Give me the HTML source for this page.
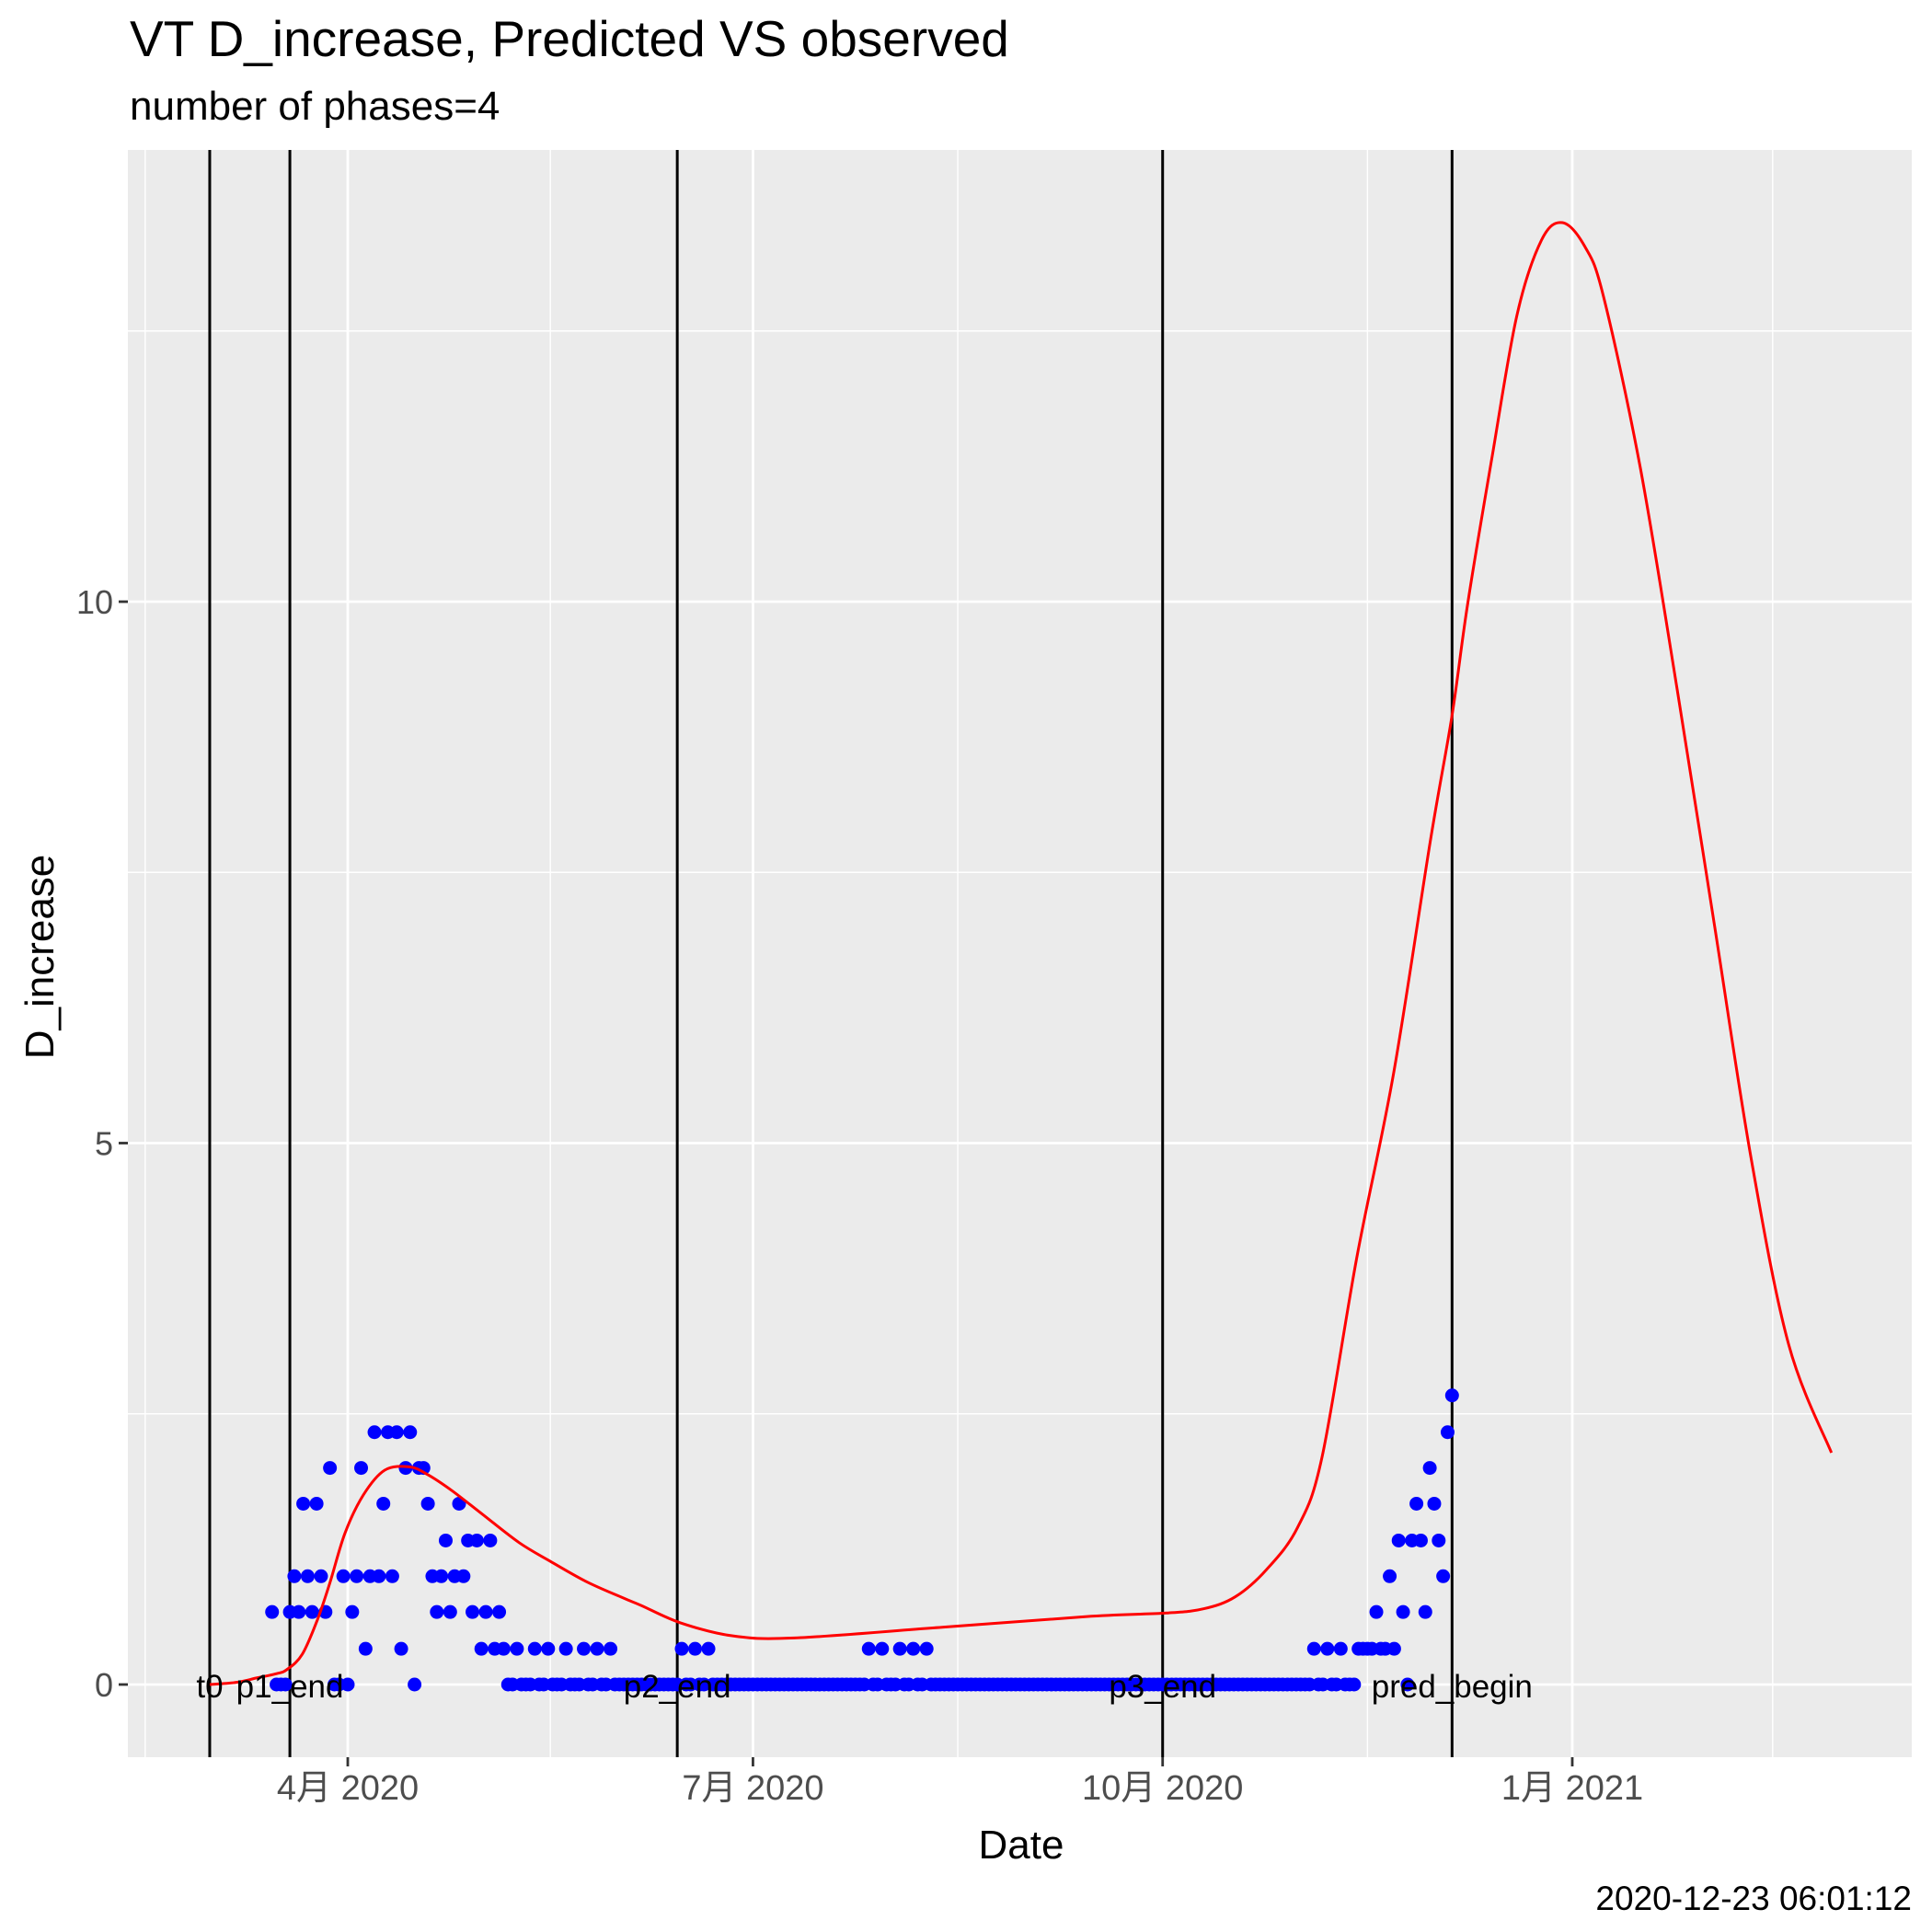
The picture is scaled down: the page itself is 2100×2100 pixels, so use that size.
<!DOCTYPE html>
<html>
<head>
<meta charset="utf-8">
<style>
  html, body { margin: 0; padding: 0; background: #ffffff; }
  svg { display: block; }
  text { font-family: "Liberation Sans", "Noto Sans CJK SC", sans-serif; }
</style>
</head>
<body>
<svg id="chart" width="2100" height="2100" viewBox="0 0 2100 2100" xmlns="http://www.w3.org/2000/svg">
  <rect x="0" y="0" width="2100" height="2100" fill="#ffffff"/>
  <text x="141" y="61" font-size="55" fill="#000">VT D_increase, Predicted VS observed</text>
  <text x="141" y="130" font-size="44" fill="#000">number of phases=4</text>
  <rect x="139" y="163" width="1939" height="1747" fill="#EBEBEB"/>
  <g id="grid"></g>
  <g id="vlines"></g>
  <g id="points"></g>
  <g id="curve"></g>
  <g id="vlabels"></g>
  <g id="axes"></g>
  <text x="1110" y="2020" font-size="44" text-anchor="middle" fill="#000">Date</text>
  <text x="0" y="0" font-size="44" text-anchor="middle" fill="#000" transform="translate(58,1040) rotate(-90)">D_increase</text>
  <text x="2078" y="2076" font-size="37" text-anchor="end" fill="#000">2020-12-23 06:01:12</text>
</svg>
<script>
// ---- data (days are offsets from 2020-04-01) ----
const obsStartDay = -17;
const obsValues = [
  0.67,0,0,0,0.67,1,0.67,1.67,1,0.67,1.67,1,0.67,2,0,0,1,
  0,0.67,1,2,0.33,1,2.33,1,1.67,2.33,1,2.33,0.33,2,2.33,0,2,2,1.67,1,0.67,1,1.33,0.67,1,1.67,1,1.33,0.67,1.33,0.33,0.67,1.33,0.33,0.67,0.33,0,0,0.33,0,0,0,0.33,0,0,0.33,0,0,0,0.33,0,0,0,0.33,0,0,0.33,0,0,0.33,
  0,0,0,0,0,0,0,0,0,0,0,0,0,0,0,0.33,0,0,0.33,0,0,0.33,
  0,0,0,0,0,0,0,0,0,0, 0,0,0,0,0,0,0,0,0,0, 0,0,0,0,0,0,0,0,0,0, 0,0,0,0,0,
  0.33,0,0,0.33,0,0,0,0.33,0,0,0.33,0,0,0.33,
  0,0,0,0,0,0,0,0,0,0, 0,0,0,0,0,0,0,0,0,0, 0,0,0,0,0,0,0,0,0,0, 0,0,0,0,0,0,0,0,0,0, 0,0,0,
  0,0,0,0,0,0,0,0,0,0, 0,0,0,0,0,0,0,0,0,0, 0,0,0,0,0,0,0,0,0,0, 0,0,0,0,0,0,0,0,0,0, 0,0,0,
  0.33,0,0,0.33,0,0,0.33,0,0,0,
  0.33,0.33,0.33,0.33,0.67,0.33,0.33,1,0.33,1.33,
  0.67,0,1.33,1.67,1.33,0.67,2,1.67,1.33,1,
  2.33,2.67
];
const curveDays = [-31,-25,-20.5,-16,-13.6,-10.2,-6.8,-4,-0.6,3.5,8.3,13.8,17.9,23.4,30.3,38.5,45.4,53.6,61.8,65.9,74.7,86.3,100.3,133.8,167,183.9,192.3,199.3,206.3,213.3,218.8,226.6,234.9,243.2,248,251.5,257,262.6,268.1,272.8,277.8,282,290.3,298.6,306.9,315.2,323.6,333.2];
const curveValues = [0,0.02,0.06,0.1,0.14,0.28,0.6,0.94,1.4,1.75,1.98,2.01,1.94,1.79,1.57,1.31,1.14,0.95,0.8,0.73,0.57,0.45,0.43,0.53,0.63,0.66,0.7,0.81,1.06,1.45,2.1,3.94,5.65,7.81,8.95,9.98,11.34,12.65,13.34,13.5,13.28,12.82,11.23,9.18,7.02,4.85,3.14,2.14];
const phaseDays = [-31,-13,74,183,248];
const phaseLabels = ["t0","p1_end","p2_end","p3_end","pred_begin"];
const xTickDays = [0,91,183,275];
const xTickLabels = ["4月 2020","7月 2020","10月 2020","1月 2021"];
const xMinorDays = [-45.5,45.5,137,229,320];
const yTicks = [0,5,10];
const yTickLabels = ["0","5","10"];
const yMinor = [2.5,7.5,12.5];

// ---- scales ----
const PL = 139, PR = 2078, PT = 163, PB = 1910;
function xs(d) { return 378 + 4.84 * d; }
function ys(v) { return 1831 - 117.7 * v; }
const NS = "http://www.w3.org/2000/svg";
function mk(tag, attrs, parent) {
  const el = document.createElementNS(NS, tag);
  for (const k in attrs) el.setAttribute(k, attrs[k]);
  parent.appendChild(el);
  return el;
}
const grid = document.getElementById('grid');
yMinor.forEach(v => {
  const l = mk('line', {x1: PL, x2: PR, y1: ys(v), y2: ys(v), stroke: '#fff', 'stroke-width': 1.4}, grid);
  
  
});
xMinorDays.forEach(d => {
  const l = mk('line', {x1: xs(d), x2: xs(d), y1: PT, y2: PB, stroke: '#fff', 'stroke-width': 1.4}, grid);
  
  
});
yTicks.forEach(v => {
  const l = mk('line', {x1: PL, x2: PR, y1: ys(v), y2: ys(v), stroke: '#fff', 'stroke-width': 2.8}, grid);
  
  
});
xTickDays.forEach(d => {
  const l = mk('line', {x1: xs(d), x2: xs(d), y1: PT, y2: PB, stroke: '#fff', 'stroke-width': 2.8}, grid);
  
  
});

const vl = document.getElementById('vlines');
phaseDays.forEach(d => {
  const l = mk('line', {x1: xs(d), x2: xs(d), y1: PT, y2: PB, stroke: '#000', 'stroke-width': 3}, vl);
  
  
});

const pts = document.getElementById('points');
obsValues.forEach((v, i) => {
  const c = mk('circle', {cx: xs(obsStartDay + i), cy: ys(v), r: 7.5, fill: '#0000FF'}, pts);
  
  
});

// smooth curve (Catmull-Rom -> Bezier)
const cv = document.getElementById('curve');
const P = curveDays.map((d, i) => [xs(d), ys(curveValues[i])]);
let dstr = 'M' + P[0][0].toFixed(1) + ',' + P[0][1].toFixed(1);
for (let i = 0; i < P.length - 1; i++) {
  const p0 = P[Math.max(0, i - 1)], p1 = P[i], p2 = P[i + 1], p3 = P[Math.min(P.length - 1, i + 2)];
  const c1x = p1[0] + (p2[0] - p0[0]) / 6, c1y = p1[1] + (p2[1] - p0[1]) / 6;
  const c2x = p2[0] - (p3[0] - p1[0]) / 6, c2y = p2[1] - (p3[1] - p1[1]) / 6;
  dstr += ' C' + c1x.toFixed(1) + ',' + c1y.toFixed(1) + ' ' + c2x.toFixed(1) + ',' + c2y.toFixed(1) + ' ' + p2[0].toFixed(1) + ',' + p2[1].toFixed(1);
}
const path = mk('path', {d: dstr, fill: 'none', stroke: '#FF0000', 'stroke-width': 3, 'stroke-linejoin': 'round'}, cv);



const vlab = document.getElementById('vlabels');
phaseDays.forEach((d, i) => {
  const t = mk('text', {x: xs(d), y: 1845, 'font-size': 35, 'text-anchor': 'middle', fill: '#000'}, vlab);
  t.textContent = phaseLabels[i];
  
  
});

const ax = document.getElementById('axes');
xTickDays.forEach((d, i) => {
  const tk = mk('line', {x1: xs(d), x2: xs(d), y1: PB, y2: PB + 10, stroke: '#333', 'stroke-width': 2.8}, ax);
  
  
  const t = mk('text', {x: xs(d), y: 1956, 'font-size': 38, 'text-anchor': 'middle', fill: '#4D4D4D'}, ax);
  t.textContent = xTickLabels[i];
  
  
});
yTicks.forEach((v, i) => {
  const tk = mk('line', {x1: PL - 10, x2: PL, y1: ys(v), y2: ys(v), stroke: '#333', 'stroke-width': 2.8}, ax);
  
  
  const t = mk('text', {x: PL - 16, y: ys(v) + 13, 'font-size': 36, 'text-anchor': 'end', fill: '#4D4D4D'}, ax);
  t.textContent = yTickLabels[i];
  
  
});
</script>
</body>
</html>
